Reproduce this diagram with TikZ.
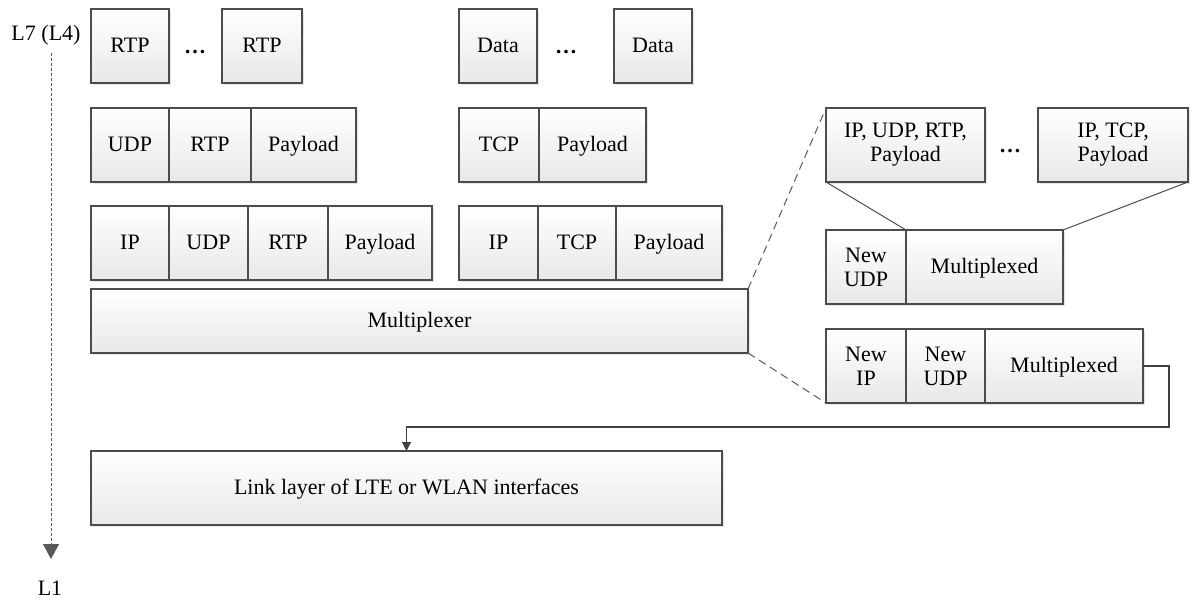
\documentclass[tikz,border=0pt]{standalone}
\usepackage{fontspec}
\setmainfont{Liberation Serif}
\usetikzlibrary{arrows.meta,shadows}

\begin{document}
\begin{tikzpicture}[x=0.5pt, y=-0.5pt,
    font=\fontsize{11}{12}\selectfont,
    cell/.style={draw=black!70, line width=.6pt, top color=white, bottom color=black!9,
      drop shadow={shadow xshift=.9pt, shadow yshift=-.9pt, fill=black!20, opacity=.5},
      anchor=north west, inner sep=0pt, outer sep=0pt, align=center, minimum height=37pt,
      text height=1.45ex, text depth=0pt},
    twoline/.style={text height=, text depth=},
    cellw/.style={minimum width=#1*0.5pt},
    dotsnode/.style={inner sep=0pt, anchor=base, font=\fontsize{11}{12}\selectfont\bfseries}]
        \useasboundingbox (0,0) rectangle (1192,599);
        % layer axis
        \node (ltop) at (46,35) {L7 (L4)};
        \node (lbot) at (50,588) {L1};
        \coordinate (axtop) at (51,53);
        \coordinate (axend) at (51,559);
        \draw[black!65, line width=.5pt, dash pattern=on 1.5pt off 1pt, -{Triangle[width=8pt,length=7.5pt]}] (axtop) -- (axend);
        % application layer
        \node[cell, cellw=78] (rtpA) at (91,9) {RTP};
        \node[dotsnode] (rtpdots) at (195,54) {\dots};
        \node[cell, cellw=80] (rtpB) at (222,9) {RTP};
        \node[cell, cellw=78] (dataA) at (459,9) {Data};
        \node[dotsnode] (datadots) at (566,54) {\dots};
        \node[cell, cellw=78] (dataB) at (614,9) {Data};
        % transport layer
        \node[cell, cellw=78] (udpA) at (91,108) {UDP};
        \node[cell, cellw=82] (rtpC) at (udpA.north east) {RTP};
        \node[cell, cellw=105] (payA) at (rtpC.north east) {Payload};
        \node[cell, cellw=80] (tcpA) at (459,108) {TCP};
        \node[cell, cellw=107] (payB) at (tcpA.north east) {Payload};
        % network layer
        \node[cell, cellw=78] (ipA) at (91,206) {IP};
        \node[cell, cellw=79] (udpB) at (ipA.north east) {UDP};
        \node[cell, cellw=80] (rtpD) at (udpB.north east) {RTP};
        \node[cell, cellw=104] (payC) at (rtpD.north east) {Payload};
        \node[cell, cellw=79] (ipB) at (459,206) {IP};
        \node[cell, cellw=78] (tcpB) at (ipB.north east) {TCP};
        \node[cell, cellw=106] (payD) at (tcpB.north east) {Payload};
        \node[cell, cellw=657, minimum height=32pt] (mux) at (91,289) {Multiplexer};
        \node[cell, cellw=631] (link) at (91,451) {Link layer of LTE or WLAN interfaces};
        % multiplexed packets
        \node[cell, twoline, cellw=159] (grpA) at (826,108) {IP, UDP, RTP,\\Payload};
        \node[dotsnode] (grpdots) at (1010,152) {\dots};
        \node[cell, twoline, cellw=150] (grpB) at (1038,108) {IP, TCP,\\Payload};
        \node[cell, twoline, cellw=80] (newudpA) at (826,230) {New\\UDP};
        \node[cell, cellw=157] (muxdA) at (newudpA.north east) {Multiplexed};
        \node[cell, twoline, cellw=80] (newip) at (826,329) {New\\IP};
        \node[cell, twoline, cellw=79] (newudpB) at (newip.north east) {New\\UDP};
        \node[cell, cellw=158] (muxdB) at (newudpB.north east) {Multiplexed};
        \draw[black!65, line width=.5pt, dash pattern=on 4pt off 2.5pt] (mux.north east) -- (grpA.north west);
        \draw[black!65, line width=.5pt, dash pattern=on 4pt off 2.5pt] (mux.south east) -- (newip.south west);
        \draw[black!70, line width=.5pt] (grpA.south west) -- (newudpA.north east);
        \draw[black!70, line width=.5pt] (grpB.south east) -- (muxdA.north east);
        \coordinate (bend) at (1169,427);
        \draw[black!75, line width=.6pt, -{Triangle[width=4.5pt,length=4.5pt]}] (muxdB.east) -| (bend) -| (link.north);
        \end{tikzpicture}
\end{document}
